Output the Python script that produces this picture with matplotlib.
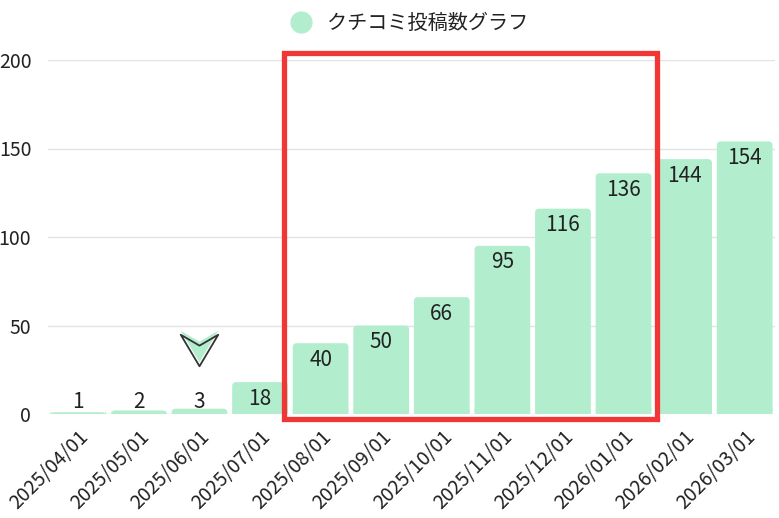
import matplotlib
matplotlib.use("Agg")
import matplotlib.pyplot as plt
from matplotlib.patches import Rectangle, FancyBboxPatch
from matplotlib.path import Path
import numpy as np

plt.rcParams['font.family'] = ['Noto Sans CJK JP', 'DejaVu Sans']

# data
months = ['2025/04/01', '2025/05/01', '2025/06/01', '2025/07/01', '2025/08/01', '2025/09/01',
          '2025/10/01', '2025/11/01', '2025/12/01', '2026/01/01', '2026/02/01', '2026/03/01']
counts = [1, 2, 3, 18, 40, 50, 66, 95, 116, 136, 144, 154]
series_name = 'クチコミ投稿数グラフ'
highlight = (4, 9)   # first and last highlighted month index
pointer_at = 2

bar_color = '#b2eecd'
text_color = '#222222'

fig = plt.figure(figsize=(7.79, 5.18), dpi=100)
ax = fig.add_axes([48 / 779, 104 / 518, 727 / 779, 354 / 518])

x = np.arange(len(months))
ax.set_xlim(-0.5, len(months) - 0.5)
ax.set_ylim(0, 200)
bars = ax.bar(x, counts, width=0.92, color=bar_color, label=series_name, zorder=2)

# rounded tops: rounded box over each bar, square part keeps the bottom flat
px_x = ax.get_window_extent().width / 12
px_y = ax.get_window_extent().height / 200
rad = 4 / px_x
aspect = px_x / px_y
for b in bars:
    h = b.get_height()
    fb = FancyBboxPatch((b.get_x(), 0), b.get_width(), h,
                        boxstyle=f"round,pad=0,rounding_size={rad}",
                        mutation_aspect=aspect, facecolor=bar_color, edgecolor='none',
                        zorder=2, snap=False)
    ax.add_patch(fb)
    b.set_snap(False)
    b.set_height(min(h / 2, 5 / px_y))

ax.set_yticks([0, 50, 100, 150, 200])
ax.grid(axis='y', color='#e3e3e3', linewidth=1, zorder=0)
for s in ax.spines.values():
    s.set_visible(False)
ax.tick_params(length=0, labelsize=14, labelcolor=text_color)
ax.tick_params(axis='y', pad=12)
ax.tick_params(axis='x', pad=9)
ax.set_xticks(x)
ax.set_xticklabels(months, rotation=45, ha='right', rotation_mode='anchor')

# value labels at the top inside the bars (kept above the axis for tiny bars)
for xi, v in zip(x, counts):
    ax.annotate(str(v), (xi, max(v, 16)), xytext=(0, -4), textcoords='offset points',
                ha='center', va='top', fontsize=15, color=text_color, zorder=4)

# highlight box
r = Rectangle((highlight[0] - 0.61, -3), highlight[1] - highlight[0] + 1.17, 207,
              fill=False, edgecolor='#f23535', linewidth=3.8, clip_on=False, zorder=5)
ax.add_patch(r)

# pointer marker
arrow = Path([(-1, 0.84), (0, 0.26), (1, 0.84), (0, -0.84), (-1, 0.84)],
             [Path.MOVETO, Path.LINETO, Path.LINETO, Path.LINETO, Path.CLOSEPOLY])
ax.plot([pointer_at], [38.5], marker=arrow, markersize=27, color=bar_color,
        markeredgewidth=0, linestyle='none', zorder=6)
ax.plot([pointer_at], [36], marker=arrow, markersize=27, markerfacecolor='none',
        markeredgecolor='#333333', markeredgewidth=1.3, linestyle='none', zorder=7)

leg = ax.legend(handles=[plt.Line2D([], [], marker='o', color=bar_color, markersize=15,
                                    linestyle='none')],
                labels=[series_name], loc='lower center', bbox_to_anchor=(0.5 - 7 / 727, 1.05),
                frameon=False, fontsize=14.5, handletextpad=0.3, borderaxespad=0)
for t in leg.get_texts():
    t.set_color(text_color)

fig.savefig('out.png', dpi=100)
